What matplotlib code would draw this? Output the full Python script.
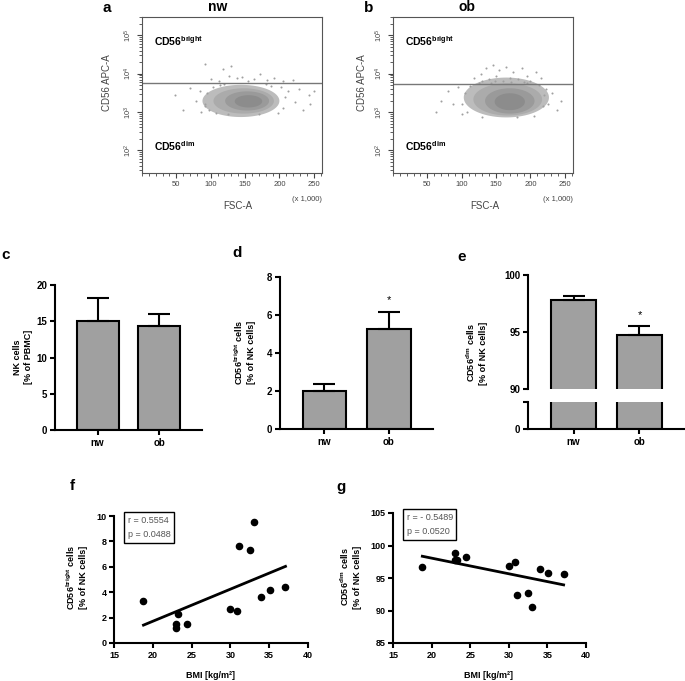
import numpy as np
import matplotlib
matplotlib.use('Agg')
import matplotlib.pyplot as plt
from matplotlib.ticker import LogLocator, NullFormatter, FixedLocator

plt.rcParams['font.family'] = ['Liberation Sans', 'DejaVu Sans']
plt.rcParams['mathtext.fontset'] = 'custom'
plt.rcParams['mathtext.rm'] = 'Liberation Sans'
plt.rcParams['mathtext.bf'] = 'Liberation Sans:bold'
plt.rcParams['mathtext.it'] = 'Liberation Sans:italic'

W, H = 685, 681

# ─── data ───

groups = ["nw", "ob"]
nk_mean = [15.0, 14.3]
nk_err = [3.2, 1.7]
bright_mean = [2.0, 5.25]
bright_err = [0.35, 0.9]
dim_mean = [97.8, 94.7]
dim_err = [0.35, 0.85]

bmi = [18.8, 23.0, 23.0, 23.3, 24.4, 30.0, 30.8, 31.1, 32.5, 33.0, 34.0, 35.1, 37.1]
bright_pct = [3.3, 1.5, 1.2, 2.3, 1.5, 2.7, 2.5, 7.6, 7.3, 9.5, 3.6, 4.2, 4.4]
dim_pct = [96.7, 98.8, 97.8, 97.7, 98.2, 96.8, 97.4, 92.4, 92.7, 90.5, 96.4, 95.8, 95.6]
stats_f = "r = 0.5554\np = 0.0488"
stats_g = "r = - 0.5489\np = 0.0520"

# flow cytometry dot clouds: (FSC-A x1000, log10 CD56) - core regions and sparse events
cloud_nw = [(144, 3.29, 56, 0.42), (148, 3.29, 44, 0.33), (153, 3.29, 32, 0.25), (155, 3.28, 20, 0.16)]
cloud_ob = [(165, 3.38, 62, 0.52), (167, 3.33, 50, 0.42), (170, 3.29, 36, 0.33), (170, 3.27, 22, 0.22)]
gate_nw = 3.76
gate_ob = 3.745
dots_nw_x = [91, 100, 112, 118, 126, 130, 138, 146, 155, 163, 172, 182, 192, 205, 220,
             48, 60, 70, 78, 84, 86, 92, 212, 222, 228, 235, 243, 250, 245,
             92, 95, 98, 104, 108, 205, 208, 203, 198, 120, 180, 125, 170, 113, 188]
dots_nw_y = [4.25, 3.85, 3.82, 4.12, 3.95, 4.2, 3.88, 3.92, 3.82, 3.86, 3.98, 3.84, 3.9, 3.81, 3.83,
             3.45, 3.05, 3.62, 3.3, 3.55, 3.0, 3.15, 3.55, 3.25, 3.6, 3.05, 3.45, 3.55, 3.2,
             3.2, 3.5, 3.05, 3.65, 2.98, 3.1, 3.4, 3.65, 2.97, 3.72, 3.72, 2.96, 2.95, 3.7, 3.68]
dots_ob_x = [118, 128, 135, 140, 145, 150, 155, 160, 165, 170, 175, 182, 188, 195, 200, 208, 215, 130, 190, 148,
             62, 70, 80, 88, 95, 100, 225, 232, 238, 222, 245,
             100, 105, 108, 112, 218, 220, 212, 205, 130, 180, 125, 195, 142, 172]
dots_ob_y = [3.9, 4.0, 4.15, 3.85, 4.22, 3.95, 4.1, 3.82, 4.18, 3.9, 4.05, 3.85, 4.15, 3.95, 3.82, 4.05, 3.9, 3.8, 3.78, 3.8,
             3.0, 3.3, 3.55, 3.2, 3.65, 2.95, 3.2, 3.5, 3.05, 3.6, 3.3,
             3.2, 3.5, 3.0, 3.68, 3.15, 3.45, 3.7, 2.9, 2.88, 2.88, 3.75, 3.75, 3.77, 3.79]

fig = plt.figure(figsize=(W / 100, H / 100), dpi=100)


def add_ax(x0, y0, x1, y1):
    """Axes from pixel box (left, top, right, bottom)."""
    return fig.add_axes([x0 / W, 1 - y1 / H, (x1 - x0) / W, (y1 - y0) / H])


def ftext(x, y, s, **kw):
    fig.text(x / W, 1 - y / H, s, **kw)


def flow_panel(ax, cloud, dx, dy, gate):
    ax.set_yscale('log')
    ax.set_xlim(0, 262)
    ax.set_ylim(10 ** 1.41, 10 ** 5.48)
    t = np.linspace(0, 2 * np.pi, 120)
    for (cx, cy, rx, ry), col in zip(cloud, ['#bcbcbc', '#ababab', '#9a9a9a', '#8c8c8c']):
        ax.fill(cx + rx * np.cos(t), 10 ** (cy + ry * np.sin(t)), color=col, lw=0)
    ax.scatter(dx, 10 ** np.array(dy), s=2.2, color='#a0a0a0', lw=0)
    ax.axhline(10 ** gate, color='#777777', lw=1.0)
    for sp in ax.spines.values():
        sp.set_color('#555555')
        sp.set_linewidth(0.8)
    ax.set_xticks([50, 100, 150, 200, 250])
    ax.set_xticks(np.arange(0, 261, 10), minor=True)
    ax.yaxis.set_major_locator(FixedLocator([1e2, 1e3, 1e4, 1e5]))
    ax.yaxis.set_minor_locator(LogLocator(base=10, subs=np.arange(2, 10)))
    ax.yaxis.set_minor_formatter(NullFormatter())
    ax.set_yticklabels([r'$10^2$', r'$10^3$', r'$10^4$', r'$10^5$'])
    ax.tick_params(which='major', length=3.5, width=0.8, color='#444444',
                   labelsize=5.5, labelcolor='#444444', pad=2)
    ax.tick_params(which='minor', length=2, width=0.6, color='#444444')
    ax.tick_params(axis='y', which='major', labelrotation=90)
    for lab in ax.get_yticklabels():
        lab.set_va('center')
    ax.text(17.6, 10 ** 4.86, r'$\mathbf{CD56^{bright}}$', fontsize=7.5, va='center')
    ax.text(17.6, 10 ** 2.1, r'$\mathbf{CD56^{dim}}$', fontsize=7.5, va='center')


def bar_style(ax):
    ax.spines['top'].set_visible(False)
    ax.spines['right'].set_visible(False)
    for sp in ax.spines.values():
        sp.set_linewidth(1.5)
    ax.tick_params(width=1.5, length=3.5, labelsize=7, pad=2)
    for lab in ax.get_xticklabels() + ax.get_yticklabels():
        lab.set_fontweight('bold')


def bars(ax, means, errs):
    x = np.arange(len(groups))
    ax.bar(x, means, 0.68, color='#a0a0a0', edgecolor='black', lw=1.5, zorder=2)
    ax.errorbar(x, means, yerr=[np.zeros(len(errs)), errs], fmt='none', ecolor='black',
                elinewidth=1.5, capsize=8, capthick=1.5, zorder=3)
    ax.set_xlim(-0.69, 1.69)
    ax.set_xticks(x)
    ax.set_xticklabels(groups)


# ─── a / b: flow cytometry ───
ax_a = add_ax(142, 17, 322, 173)
flow_panel(ax_a, cloud_nw, dots_nw_x, dots_nw_y, gate_nw)
ax_b = add_ax(393, 17, 573, 173)
flow_panel(ax_b, cloud_ob, dots_ob_x, dots_ob_y, gate_ob)

for xl, xc, xr in [(107, 238, 322), (362, 485, 573)]:
    ftext(xl, 83, 'CD56 APC-A', rotation=90, fontsize=7, color='#444444', ha='center', va='center')
    ftext(xc, 206, 'FSC-A', fontsize=7, color='#444444', ha='center', va='center')
    ftext(xr, 199, '(x 1,000)', fontsize=5.5, color='#444444', ha='right', va='center')
ftext(218, 7, 'nw', fontsize=10, fontweight='bold', ha='center', va='center')
ftext(467, 7, 'ob', fontsize=10, fontweight='bold', ha='center', va='center')
ftext(107, 8, 'a', fontsize=11, fontweight='bold', ha='center', va='center')
ftext(369, 8, 'b', fontsize=11, fontweight='bold', ha='center', va='center')

# ─── c: NK cells ───
ax_c = add_ax(55, 285, 202, 430)
bars(ax_c, nk_mean, nk_err)
ax_c.set_ylim(0, 20)
ax_c.set_yticks([0, 5, 10, 15, 20])
bar_style(ax_c)
ftext(23, 357, 'NK cells\n[% of PBMC]', rotation=90, fontsize=6.5, fontweight='bold',
      ha='center', va='center', linespacing=1.3)
ftext(6, 255, 'c', fontsize=11, fontweight='bold', ha='center', va='center')

# ─── d: CD56 bright ───
ax_d = add_ax(280, 277, 433, 429)
bars(ax_d, bright_mean, bright_err)
ax_d.set_ylim(0, 8)
ax_d.set_yticks([0, 2, 4, 6, 8])
bar_style(ax_d)
ax_d.text(1, 6.8, '*', fontsize=8, ha='center', va='center')
ftext(244, 352, r'$\mathbf{CD56^{bright}}$ cells' + '\n[% of NK cells]', rotation=90, fontsize=6.5,
      fontweight='bold', ha='center', va='center', linespacing=1.3)
ftext(237, 253, 'd', fontsize=11, fontweight='bold', ha='center', va='center')

# ─── e: CD56 dim, broken axis ───
ax_e = add_ax(528, 275, 685, 389)
ax_e2 = add_ax(528, 402, 685, 429)
for ax in (ax_e, ax_e2):
    bars(ax, dim_mean, dim_err)
ax_e.set_ylim(90, 100)
ax_e.set_yticks([90, 95, 100])
ax_e2.set_ylim(0, 5)
ax_e2.set_yticks([0, 5])
ax_e2.set_yticklabels(['0', ''])
bar_style(ax_e)
bar_style(ax_e2)
ax_e.spines['bottom'].set_visible(False)
ax_e.tick_params(axis='x', bottom=False, labelbottom=False)
ax_e.text(1, 96.5, '*', fontsize=8, ha='center', va='center')
ftext(476, 353, r'$\mathbf{CD56^{dim}}$ cells' + '\n[% of NK cells]', rotation=90, fontsize=6.5,
      fontweight='bold', ha='center', va='center', linespacing=1.3)
ftext(462, 257, 'e', fontsize=11, fontweight='bold', ha='center', va='center')


# ─── f / g: correlation with BMI ───
def corr_panel(ax, y, ylim, yticks, stats):
    ax.scatter(bmi, y, s=20, color='black', zorder=3)
    k, b = np.polyfit(bmi, y, 1)
    xs = np.array([min(bmi), max(bmi)])
    ax.plot(xs, k * xs + b, color='black', lw=2)
    ax.set_xlim(15, 40)
    ax.set_ylim(*ylim)
    ax.set_xticks([15, 20, 25, 30, 35, 40])
    ax.set_yticks(yticks)
    bar_style(ax)
    ax.tick_params(labelsize=6.5)
    ax.text(0.07, 1.0, stats, transform=ax.transAxes, fontsize=6.5, color='#555555',
            va='top', ha='left', linespacing=1.75,
            bbox=dict(boxstyle='square,pad=0.4', fc='white', ec='black', lw=1))


ax_f = add_ax(114, 516, 308, 643)
corr_panel(ax_f, bright_pct, (0, 10), [0, 2, 4, 6, 8, 10], stats_f)
ax_g = add_ax(393, 513, 586, 643)
corr_panel(ax_g, dim_pct, (85, 105), [85, 90, 95, 100, 105], stats_g)

ftext(76, 577, r'$\mathbf{CD56^{bright}}$ cells' + '\n[% of NK cells]', rotation=90, fontsize=6.5,
      fontweight='bold', ha='center', va='center', linespacing=1.3)
ftext(350, 577, r'$\mathbf{CD56^{dim}}$ cells' + '\n[% of NK cells]', rotation=90, fontsize=6.5,
      fontweight='bold', ha='center', va='center', linespacing=1.3)
ftext(211, 675, 'BMI [kg/m²]', fontsize=6.5, fontweight='bold', ha='center', va='center')
ftext(489, 675, 'BMI [kg/m²]', fontsize=6.5, fontweight='bold', ha='center', va='center')
ftext(72, 486, 'f', fontsize=11, fontweight='bold', ha='center', va='center')
ftext(341, 487, 'g', fontsize=11, fontweight='bold', ha='center', va='center')

fig.savefig('out.png', dpi=100)
